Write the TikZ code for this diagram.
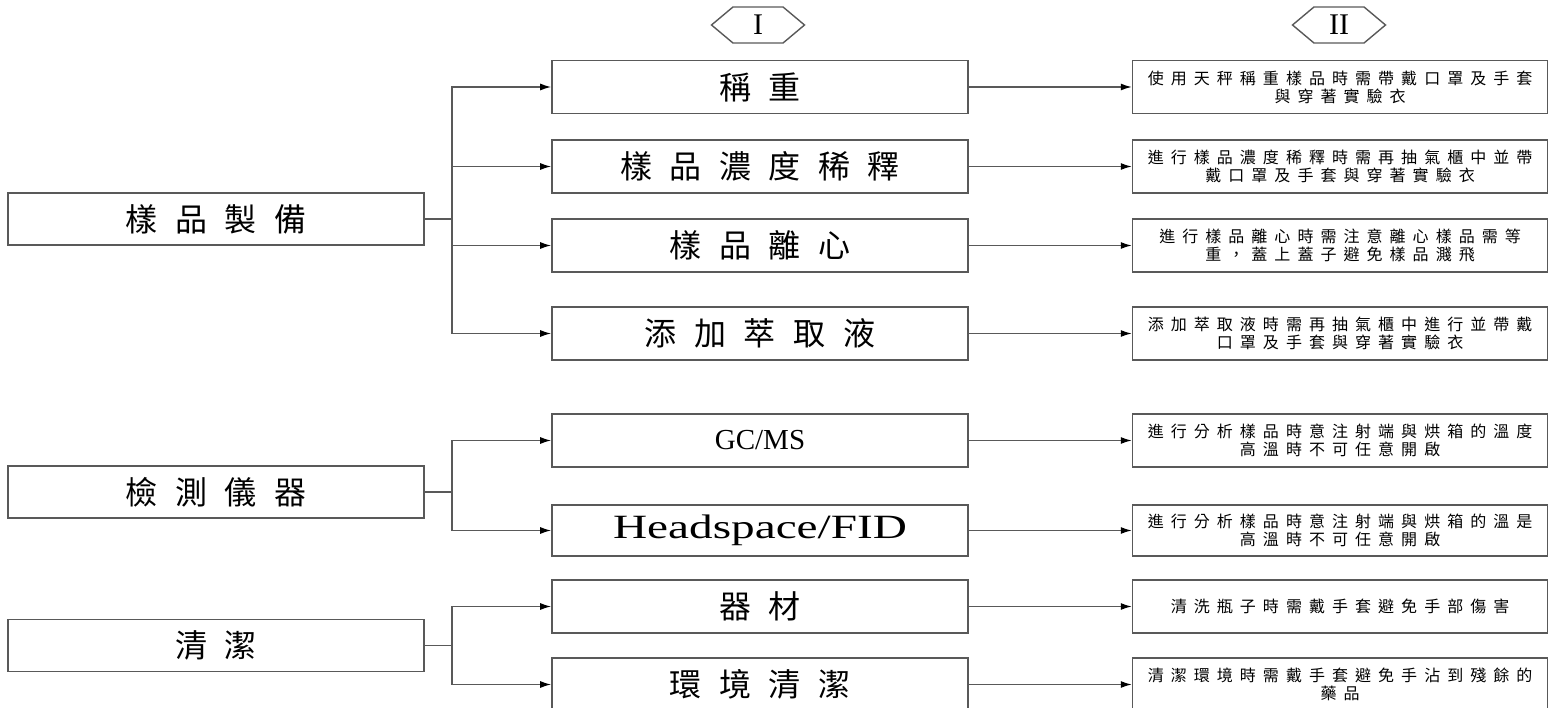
\documentclass[tikz,border=0pt]{standalone}
\usepackage{fontspec}
\setmainfont{Liberation Serif}
\newfontfamily\cjkbig[LetterSpace=55]{Noto Sans CJK TC}
\newfontfamily\cjknote[LetterSpace=44]{Noto Sans CJK TC}
\usetikzlibrary{arrows.meta,positioning,shapes.symbols}
\tikzset{
  catbox/.style ={draw=black!65,line width=1.6pt,minimum width=416pt,minimum height=52pt,
                  inner sep=0pt,font=\fontsize{32}{36}\selectfont\cjkbig},
  stepbox/.style={draw=black!65,line width=1.6pt,minimum width=416pt,minimum height=53pt,
                  inner sep=0pt,font=\fontsize{32}{36}\selectfont\cjkbig},
  notebox/.style={draw=black!65,line width=1.6pt,minimum width=415pt,minimum height=53pt,
                  inner sep=0pt,align=center,font=\fontsize{16}{18}\selectfont\cjknote},
  colhead/.style={draw=black!65,line width=1.4pt,signal,signal to=east and west,
                  signal pointer angle=80,minimum width=93pt,minimum height=36pt,
                  inner sep=0pt,font=\fontsize{30}{30}\selectfont},
  ln/.style     ={draw=black!65,line width=1.4pt},
  ar/.style     ={ln,-{Latex[length=11pt,width=7pt,black]}},
}

\begin{document}
\begin{tikzpicture}[x=1pt,y=-1pt]
\useasboundingbox (0,0) rectangle (1553,708);
% column heads
\node[colhead] (hdI) at (758,25) {I};
\node[colhead] (hdII) at (1339,25) {II};
% categories
\node[catbox] (prep) at (216,219) {樣品製備};
\node[catbox] (instr) at (216,492) {檢測儀器};
\node[catbox] (clean) at (216,645.5) {清潔};
% steps
\node[stepbox] (weigh) at (760,87) {稱重};
\node[stepbox] (dilute) at (760,166.5) {樣品濃度稀釋};
\node[stepbox] (spin) at (760,245.5) {樣品離心};
\node[stepbox] (extract) at (760,333.5) {添加萃取液};
\node[stepbox] (gcms) at (760,440.5) {\fontsize{29}{32}\selectfont\rmfamily GC/MS};
\node[stepbox,minimum height=51pt] (hsfid) at (760,530.5)
  {\scalebox{1.39}[1]{\fontsize{34}{36}\selectfont\rmfamily Headspace/FID}};
\node[stepbox] (tools) at (760,606.5) {器材};
\node[stepbox] (envcl) at (760,684.5) {環境清潔};
% notes
\node[notebox,right=163pt of weigh] (weighN) {使用天秤稱重樣品時需帶戴口罩及手套\\與穿著實驗衣};
\node[notebox,right=163pt of dilute] (diluteN) {進行樣品濃度稀釋時需再抽氣櫃中並帶\\戴口罩及手套與穿著實驗衣};
\node[notebox,right=163pt of spin] (spinN) {進行樣品離心時需注意離心樣品需等\\重，蓋上蓋子避免樣品濺飛};
\node[notebox,right=163pt of extract] (extractN) {添加萃取液時需再抽氣櫃中進行並帶戴\\口罩及手套與穿著實驗衣};
\node[notebox,right=163pt of gcms] (gcmsN) {進行分析樣品時意注射端與烘箱的溫度\\高溫時不可任意開啟};
\node[notebox,right=163pt of hsfid,minimum height=51pt] (hsfidN) {進行分析樣品時意注射端與烘箱的溫是\\高溫時不可任意開啟};
\node[notebox,right=163pt of tools] (toolsN) {清洗瓶子時需戴手套避免手部傷害};
\node[notebox,right=163pt of envcl] (envclN) {清潔環境時需戴手套避免手沾到殘餘的\\藥品};
% branch points
\coordinate (jP) at ([xshift=27pt]prep.east);
\coordinate (jI) at ([xshift=27pt]instr.east);
\coordinate (jC) at ([xshift=27pt]clean.east);
\draw[ln] (prep.east)--(jP); \draw[ln] (instr.east)--(jI); \draw[ln] (clean.east)--(jC);
\foreach \s in {weigh,dilute,spin,extract} \draw[ar] (jP) |- (\s.west);
\foreach \s in {gcms,hsfid} \draw[ar] (jI) |- (\s.west);
\foreach \s in {tools,envcl} \draw[ar] (jC) |- (\s.west);
\foreach \s in {weigh,dilute,spin,extract,gcms,hsfid,tools,envcl} \draw[ar] (\s)--(\s N);
\end{tikzpicture}
\end{document}
